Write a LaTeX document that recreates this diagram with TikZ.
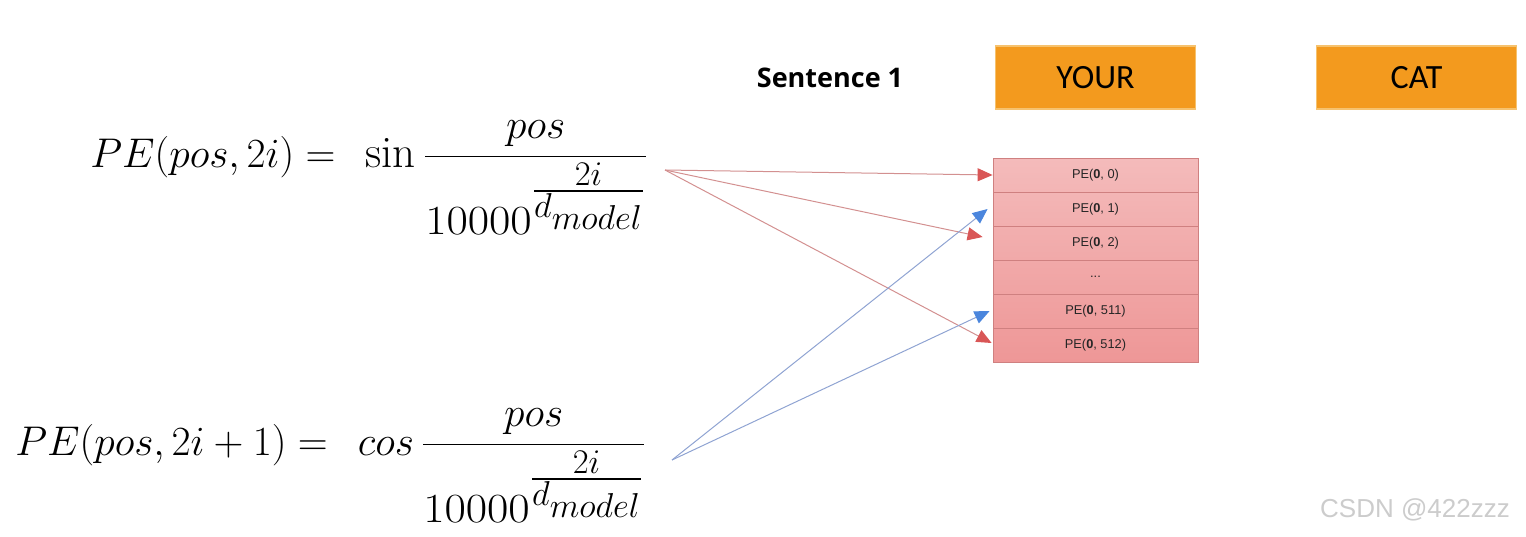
\documentclass[tikz,border=0pt]{standalone}
\usepackage{amsmath}
\usepackage{graphicx}
\usepackage{fontspec}
\setsansfont{Carlito}
\newfontfamily\tblfont{Liberation Sans}
\newfontfamily\headfont{Open Sans}
\DeclareMathSizes{22.5}{22.5}{18}{16}
\usetikzlibrary{arrows.meta}
\definecolor{tokenorange}{HTML}{F39A1E}
\definecolor{tokenedge}{HTML}{F6C26E}
\definecolor{rowtop}{HTML}{F4BBBB}
\definecolor{rowbot}{HTML}{EE9797}
\definecolor{rowline}{HTML}{CF8080}
\definecolor{sinline}{HTML}{D39090}
\definecolor{sinhead}{HTML}{D95656}
\definecolor{cosline}{HTML}{8FA3D2}
\definecolor{coshead}{HTML}{4B86DD}
\newcommand{\pedenom}{\scalebox{1.12}[1]{$10000$}^{\genfrac{}{}{}{1}{2i}{d_{model}}}}
\begin{document}
\begin{tikzpicture}[
  x=0.5pt, y=-0.5pt,
  token/.style={rectangle, fill=tokenorange, draw=tokenedge, line width=0.6pt, minimum width=100pt, minimum height=31.5pt, inner sep=0pt, font=\sffamily\fontsize{17}{20}\selectfont},
  perow/.style={rectangle, draw=rowline, line width=0.4pt, minimum width=102.5pt, minimum height=17pt, inner sep=0pt, font=\tblfont\fontsize{6.4}{8}\selectfont, text=black!85},
  formula/.style={inner sep=0pt, font=\fontsize{22.5}{27}\selectfont},
  sinarrow/.style={draw=sinline, line width=0.5pt, -{Triangle[length=7.5pt, width=6.5pt, color=sinhead]}},
  cosarrow/.style={draw=cosline, line width=0.5pt, -{Triangle[length=7.5pt, width=6.5pt, color=coshead]}},
  node distance=17pt
]
\useasboundingbox (0,0) rectangle (1526,536);

% Tokens
\node[font=\headfont\bfseries\fontsize{13.5}{16}\selectfont] (sent) at (830,78) {Sentence 1};
\node[token] (your) at (1095.5,77.5) {YOUR};
\node[token] (cat) at (1416.5,77.5) {CAT};

% Positional encoding vector
\shade[top color=rowtop, bottom color=rowbot] (993,158) rectangle (1198,361);
\node[perow] (r0) at (1095.5,175) {PE(\textbf{0}, 0)};
\node[perow, below of=r0] (r1) {PE(\textbf{0}, 1)};
\node[perow, below of=r1] (r2) {PE(\textbf{0}, 2)};
\node[perow, below of=r2] (r3) {...};
\node[perow, below of=r3] (r4) {PE(\textbf{0}, 511)};
\node[perow, below of=r4] (r5) {PE(\textbf{0}, 512)};

% Formulas
\node[formula, anchor=base west] (sinpe) at (90,167)
  {$PE(pos,2i) =\;\, \sin\dfrac{pos}{\pedenom}$};
\node[formula, anchor=base west] (cospe) at (15,455)
  {$PE(pos,2i+1) =\;\, cos\,\dfrac{pos}{\pedenom}$};
\coordinate (sinout) at (665,170);
\coordinate (cosout) at (672,460);

% Connections
\draw[sinarrow] (sinout) -- (r0.west);
\draw[sinarrow] (sinout) -- ([xshift=-5pt, yshift=3pt]r2.west);
\draw[sinarrow] (sinout) -- ([xshift=-0.5pt, yshift=1pt]r5.west);
\draw[cosarrow] (cosout) -- ([xshift=-2.5pt]r1.west);
\draw[cosarrow] (cosout) -- ([xshift=-1.5pt]r4.west);

% Watermark
\node[font=\tblfont\fontsize{13}{16}\selectfont, text=gray!40] (mark) at (1415,510) {CSDN @422zzz};
\end{tikzpicture}
\end{document}
